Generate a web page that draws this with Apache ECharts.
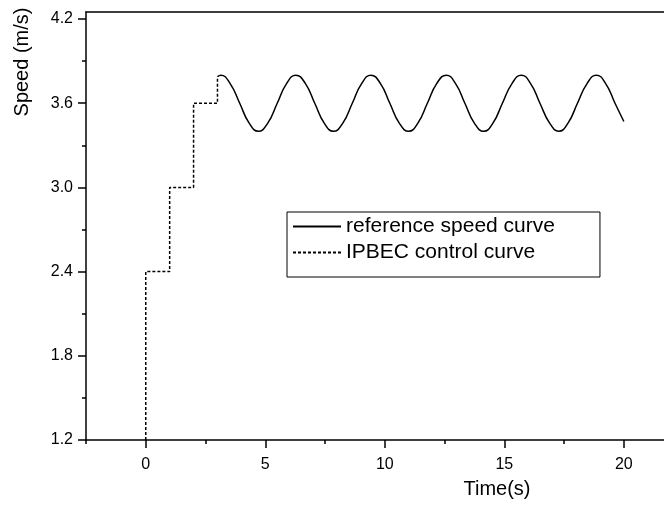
<!DOCTYPE html>
<html>
<head>
<meta charset="utf-8">
<script src="https://cdn.jsdelivr.net/npm/echarts@6/dist/echarts.min.js"></script>
<style>html,body{margin:0;padding:0;background:#fff}#c{width:664px;height:506px}</style>
</head>
<body>
<div id="c"></div>
<script>
// ---- data ----
var seriesNames = ['reference speed curve', 'IPBEC control curve'];
var xTickValues = [0, 5, 10, 15, 20];
var xMinorTickValues = [-2.5, 2.5, 7.5, 12.5, 17.5];
var yTickValues = [1.2, 1.8, 2.4, 3.0, 3.6, 4.2];
var yMinorTickValues = [1.5, 2.1, 2.7, 3.3, 3.9];

// IPBEC control curve (staircase part)
var stepTimes  = [0,   0,   1,   1,   2,   2,   3,   3];
var stepSpeeds = [1.2, 2.4, 2.4, 3.0, 3.0, 3.6, 3.6, 3.79];

// reference speed curve (oscillating part)
var waveTimes  = [3.00, 3.14, 3.53, 3.93, 4.32, 4.71, 5.11, 5.50, 5.89, 6.28, 6.68, 7.07, 7.46, 7.85, 8.25, 8.64, 9.03, 9.42, 9.82, 10.21, 10.60, 11.00, 11.39, 11.78, 12.17, 12.57, 12.96, 13.35, 13.74, 14.14, 14.53, 14.92, 15.32, 15.71, 16.10, 16.49, 16.89, 17.28, 17.67, 18.06, 18.46, 18.85, 19.24, 19.63, 20.00];
var waveSpeeds = [3.79, 3.80, 3.74, 3.60, 3.46, 3.40, 3.46, 3.60, 3.74, 3.80, 3.74, 3.60, 3.46, 3.40, 3.46, 3.60, 3.74, 3.80, 3.74, 3.60, 3.46, 3.40, 3.46, 3.60, 3.74, 3.80, 3.74, 3.60, 3.46, 3.40, 3.46, 3.60, 3.74, 3.80, 3.74, 3.60, 3.46, 3.40, 3.46, 3.60, 3.74, 3.80, 3.74, 3.60, 3.47];

function zip(a, b) { return a.map(function (v, i) { return [v, b[i]]; }); }

var FONT = 'Liberation Sans, Arial, sans-serif';
var AX = { color: '#000', width: 1.5 };
var chart = echarts.init(document.getElementById('c'), null, { renderer: 'canvas' });
chart.setOption({
  animation: false,
  backgroundColor: '#fff',
  grid: { left: 86, top: 12, right: 0, height: 428, show: false },
  xAxis: [{
    type: 'value', min: -2.5, max: 21.68,
    axisLine: { onZero: false, lineStyle: AX },
    axisTick: { customValues: xTickValues, length: 8, lineStyle: AX },
    axisLabel: { customValues: xTickValues, color: '#000', fontSize: 16, fontFamily: FONT, margin: 17 },
    splitLine: { show: false }
  }, {
    type: 'value', min: -2.5, max: 21.68, position: 'bottom',
    axisLine: { show: false, onZero: false },
    axisTick: { customValues: xMinorTickValues, length: 4, lineStyle: AX },
    axisLabel: { show: false },
    splitLine: { show: false }
  }, {
    type: 'value', min: -2.5, max: 21.68, position: 'top',
    axisLine: { show: true, onZero: false, lineStyle: AX },
    axisTick: { show: false },
    axisLabel: { show: false },
    splitLine: { show: false }
  }],
  yAxis: [{
    type: 'value', min: 1.2, max: 4.25,
    axisLine: { show: true, onZero: false, lineStyle: AX },
    axisTick: { show: true, customValues: yTickValues, length: 8, lineStyle: AX },
    axisLabel: { customValues: yTickValues, color: '#000', fontSize: 16, fontFamily: FONT, margin: 13,
      formatter: function (v) { return v.toFixed(1); } },
    splitLine: { show: false }
  }, {
    type: 'value', min: 1.2, max: 4.25, position: 'left',
    axisLine: { show: false, onZero: false },
    axisTick: { show: true, customValues: yMinorTickValues, length: 4, lineStyle: AX },
    axisLabel: { show: false },
    splitLine: { show: false }
  }],
  legend: {
    orient: 'vertical', left: 287, top: 212,
    data: seriesNames,
    itemWidth: 48, itemHeight: 14, itemGap: 5,
    padding: [4, 45, 14, 5],
    borderColor: '#000', borderWidth: 1,
    itemStyle: { opacity: 0 },
    textStyle: { color: '#000', fontSize: 21, fontFamily: FONT }
  },
  graphic: [
    { type: 'text', x: 22, y: 62, rotation: Math.PI / 2,
      style: { text: 'Speed (m/s)', font: '20px ' + FONT, fill: '#000', textAlign: 'center', textVerticalAlign: 'middle' } },
    { type: 'text', x: 497, y: 489,
      style: { text: 'Time(s)', font: '20px ' + FONT, fill: '#000', textAlign: 'center', textVerticalAlign: 'middle' } }
  ],
  series: [{
    name: seriesNames[1], type: 'line', symbol: 'none', z: 2,
    lineStyle: { color: '#000', width: 1.5, type: [3, 2] },
    itemStyle: { color: '#000' },
    data: zip(stepTimes, stepSpeeds)
  }, {
    name: seriesNames[0], type: 'line', symbol: 'none', smooth: 0.5, z: 3,
    lineStyle: { color: '#000', width: 1.5, type: 'solid' },
    itemStyle: { color: '#000' },
    data: zip(waveTimes, waveSpeeds)
  }]
});
</script>
</body>
</html>
